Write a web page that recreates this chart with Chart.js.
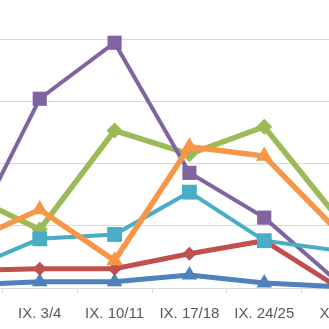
<!DOCTYPE html>
<html>
<head>
<meta charset="utf-8">
<script src="https://cdn.jsdelivr.net/npm/chart.js@4"></script>
<style>
  html, body { margin: 0; padding: 0; background: #fff; }
  #wrap { position: relative; width: 329px; height: 329px; overflow: hidden; }
  #graphique { position: absolute; left: -83px; top: 0; }
</style>
</head>
<body>
<div id="wrap"><canvas id="graphique" width="470" height="343"></canvas></div>
<script>
// Catégories (semaines)
const labels = ['VIII. 27/28', 'IX. 3/4', 'IX. 10/11', 'IX. 17/18', 'IX. 24/25', 'X. 1/2'];

// Séries
const bleu   = [0.5, 1.0, 1.0, 2.1, 0.8, 0.2];
const rouge  = [2.8, 3.1, 3.1, 5.5, 7.6, 0.0];
const vert   = [15.2, 9.4, 25.3, 21.5, 25.9, 11.0];
const violet = [6.5, 30.4, 39.4, 18.5, 11.3, 0.8];
const cyan   = [2.8, 7.9, 8.6, 15.4, 7.6, 6.0];
const orange = [7.1, 12.6, 4.4, 22.7, 21.2, 8.9];

const yTicks = [0, 10, 20, 30, 40];

function serie(data, couleur, style, largeur, taille) {
  return {
    data: data,
    borderColor: couleur,
    backgroundColor: couleur,
    pointBackgroundColor: couleur,
    pointBorderColor: couleur,
    pointStyle: style,
    pointRadius: taille,
    pointBorderWidth: 0,
    borderWidth: largeur,
    tension: 0,
    clip: false,
  };
}

const data = {
  labels: labels,
  datasets: [
    serie(orange, '#F79646', 'triangle', 5.5, 9.5),
    serie(cyan, '#4BACC6', 'rect', 4, 10.5),
    serie(violet, '#8064A2', 'rect', 4, 10),
    serie(vert, '#9BBB59', 'rectRot', 5.5, 8),
    serie(rouge, '#C0504D', 'rectRot', 5, 7),
    serie(bleu, '#4F81BD', 'triangle', 5, 9),
  ]
};

const options = {
  responsive: false,
  animation: false,
  layout: { padding: { top: 39, bottom: 8, left: 0, right: 0 } },
  plugins: { legend: { display: false }, tooltip: { enabled: false } },
  scales: {
    x: {
      offset: true,
      afterFit: (s) => { s.paddingLeft = 0; s.paddingRight = 0; },
      border: { display: true, color: '#d9d9d9', width: 1 },
      grid: { display: true, drawOnChartArea: false, drawTicks: true, tickLength: 5, color: '#d9d9d9', offset: true },
      ticks: { autoSkip: false, maxRotation: 0, padding: 12, color: '#595959',
               font: { family: 'Liberation Sans', size: 15 } },
    },
    y: {
      min: yTicks[0],
      max: yTicks[yTicks.length - 1],
      afterBuildTicks: (s) => { s.ticks = yTicks.map(v => ({ value: v })); },
      afterFit: (s) => { s.width = 0; },
      border: { display: false },
      grid: { color: '#d9d9d9', drawTicks: false, lineWidth: 1 },
      ticks: { display: false },
    }
  }
};

const ctx = document.getElementById('graphique').getContext('2d');
new Chart(ctx, { type: 'line', data: data, options: options });
</script>
</body>
</html>
